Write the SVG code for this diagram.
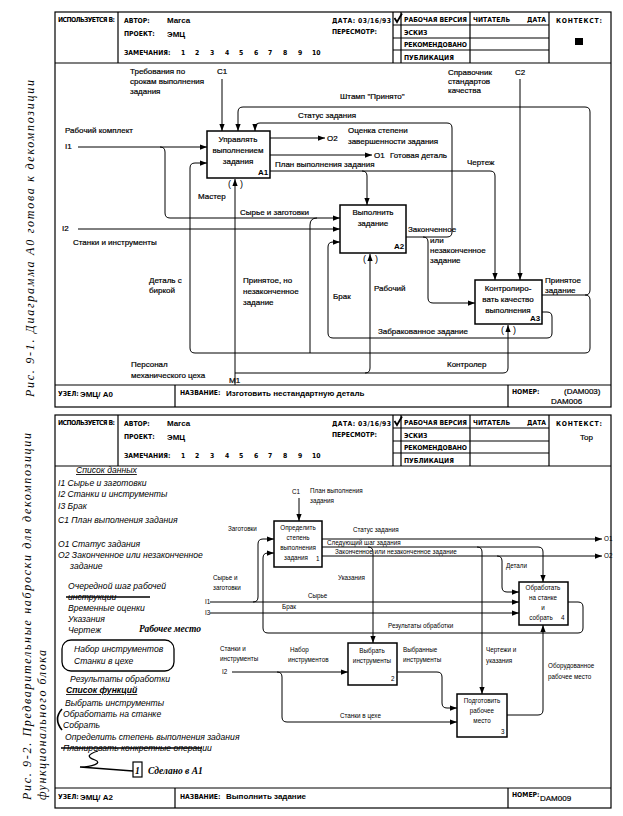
<svg xmlns="http://www.w3.org/2000/svg" width="623" height="816" viewBox="0 0 623 816">
<defs>
<marker id="ah" viewBox="0 0 8 6" refX="8" refY="3" markerWidth="7" markerHeight="5.5" markerUnits="userSpaceOnUse" orient="auto"><path d="M0,0 L8,3 L0,6 z" fill="#000"/></marker>
<g id="hdr">
<path class="fr" d="M118,12V63 M393,12V63 M401,12V63 M470,12V63 M549,12V63 M393,25H549 M393,38H549 M393,50H549 M55,63H611"/>
<text class="h" x="58" y="22" textLength="57">ИСПОЛЬЗУЕТСЯ В:</text>
<text class="h" x="124" y="23">АВТОР:</text>
<text class="hv" x="167" y="23">Marca</text>
<text class="h" x="124" y="36">ПРОЕКТ:</text>
<text class="hv" x="167" y="37" font-size="10">ЭМЦ</text>
<text class="h" x="124" y="55">ЗАМЕЧАНИЯ:</text>
<text class="h" y="55" font-size="7.5"><tspan x="181">1</tspan><tspan x="195">2</tspan><tspan x="210">3</tspan><tspan x="225">4</tspan><tspan x="239">5</tspan><tspan x="254">6</tspan><tspan x="268">7</tspan><tspan x="283">8</tspan><tspan x="298">9</tspan><tspan x="312">10</tspan></text>
<text class="h" x="332" y="23" textLength="59">ДАТА: 03/16/93</text>
<text class="h" x="332" y="34">ПЕРЕСМОТР:</text>
<text class="h" x="404" y="22" textLength="63">РАБОЧАЯ ВЕРСИЯ</text>
<text class="h" x="404" y="35">ЭСКИЗ</text>
<text class="h" x="404" y="47" textLength="63">РЕКОМЕНДОВАНО</text>
<text class="h" x="404" y="60">ПУБЛИКАЦИЯ</text>
<text class="h" x="473" y="22">ЧИТАТЕЛЬ</text>
<text class="h" x="527" y="22">ДАТА</text>
<text class="h" x="556" y="23" textLength="46">КОНТЕКСТ:</text>
<path d="M394.5,18 l2.5,4 l5,-8.5" stroke="#000" stroke-width="1.8" fill="none"/>
</g>
</defs>
<style>
.fr{fill:none;stroke:#000;stroke-width:1.2}
.cn{fill:none;stroke:#000;stroke-width:1;marker-end:url(#ah)}
.cn0{fill:none;stroke:#000;stroke-width:1}
.box{fill:#fff;stroke:#000;stroke-width:1.5}
.h{font-family:"DejaVu Sans Condensed","DejaVu Sans",sans-serif;font-weight:bold;font-size:6.8px}
.hv{font-family:"Liberation Sans",Arial,sans-serif;font-weight:bold;font-size:8px}
.t{font-family:"Liberation Sans",Arial,sans-serif;font-size:8px;stroke:#000;stroke-width:0.2}
.tc{font-family:"Liberation Sans",Arial,sans-serif;font-size:8px;text-anchor:middle;stroke:#000;stroke-width:0.2}
.ts{font-family:"Liberation Sans",Arial,sans-serif;font-size:6.3px}
.tsc{font-family:"Liberation Sans",Arial,sans-serif;font-size:6.3px;text-anchor:middle}
.it{font-family:"Liberation Sans",Arial,sans-serif;font-style:italic;font-size:8.6px}
.sc{font-family:"Liberation Serif",serif;font-style:italic;font-weight:bold;font-size:9.5px}
.cap{font-family:"Liberation Serif",serif;font-style:italic;font-size:12px}
.par{font-family:"Liberation Sans",Arial,sans-serif;font-size:9px}
</style>

<!-- captions -->
<text class="cap" transform="translate(34,397) rotate(-90)" textLength="317">Рис. 9-1. Диаграмма А0 готова к декомпозиции</text>
<text class="cap" transform="translate(31,800) rotate(-90)" textLength="367">Рис. 9-2. Предварительные наброски для декомпозиции</text>
<text class="cap" transform="translate(46,800) rotate(-90)" textLength="150">функционального блока</text>

<!-- ===== upper sheet ===== -->
<g id="sheet1">
<rect class="fr" x="55" y="12" width="556" height="395"/>
<use href="#hdr"/>
<rect x="575" y="38" width="8" height="7" fill="#000"/>
<path class="fr" d="M55,385H611 M175,385V407 M508,385V407"/>
<text class="h" x="58" y="396">УЗЕЛ:</text>
<text class="hv" x="80" y="397" font-size="10">ЭМЦ/ А0</text>
<text class="h" x="180" y="395">НАЗВАНИЕ:</text>
<text class="hv" x="226" y="396">Изготовить нестандартную деталь</text>
<text class="h" x="512" y="394">НОМЕР:</text>
<text class="t" x="564" y="394">(DAM003)</text>
<text class="t" x="551" y="404">DAM006</text>
</g>

<g id="connectors1">
<path class="cn" d="M222,79V131"/>
<path class="cn" d="M520,79V280"/>
<path class="cn" d="M78,147H207"/>
<path class="cn" d="M160,147Q165,147 165,152V213Q165,218 170,218H340"/>
<path class="cn" d="M78,229H340"/>
<path class="cn" d="M270,138H325"/>
<path class="cn" d="M270,155H372"/>
<path class="cn" d="M270,171H490Q495,171 495,176V280"/>
<path class="cn" d="M362,171Q367,171 367,176V205"/>
<path class="cn" d="M406,237H447Q452,237 452,232V128Q452,123 447,123H260Q255,123 255,128V131"/>
<path class="cn" d="M423,237Q428,237 428,242V298Q428,303 433,303H475"/>
<path class="cn" d="M542,295H585Q590,295 590,290V112Q590,107 585,107H243Q238,107 238,112V131"/>
<path class="cn" d="M585,295Q590,295 590,300V348Q590,353 585,353H195Q190,353 190,348V168Q190,163 195,163H207"/>
<path class="cn0" d="M310,353V225Q310,218 317,218"/>
<path class="cn" d="M542,312H547Q552,312 552,317V333Q552,338 547,338H333Q328,338 328,333V247Q328,242 333,242H340"/>
<path class="cn" d="M235,385V179"/>
<path class="cn" d="M235,373H365Q370,373 370,368V254"/>
<path class="cn" d="M365,373H503Q508,373 508,368V325"/>
</g>

<g id="A1">
<rect class="box" x="207" y="131" width="63" height="47"/>
<text class="tc" x="238" y="142">Управлять</text>
<text class="tc" x="238" y="153">выполнением</text>
<text class="tc" x="238" y="164">задания</text>
<text class="hv" x="258" y="175">A1</text>
<text class="par" x="228" y="187">(</text><text class="par" x="240" y="187">)</text>
</g>
<g id="A2">
<rect class="box" x="340" y="205" width="66" height="48"/>
<text class="tc" x="373" y="215">Выполнить</text>
<text class="tc" x="373" y="226">задание</text>
<text class="hv" x="394" y="249">A2</text>
<text class="par" x="363" y="262">(</text><text class="par" x="375" y="262">)</text>
</g>
<g id="A3">
<rect class="box" x="475" y="280" width="67" height="44"/>
<text class="tc" x="508" y="291">Контролиро-</text>
<text class="tc" x="508" y="302">вать качество</text>
<text class="tc" x="508" y="313">выполнения</text>
<text class="hv" x="530" y="321">A3</text>
<text class="par" x="501" y="333">(</text><text class="par" x="513" y="333">)</text>
</g>

<g id="labels1">
<text class="t" x="130" y="74">Требования по</text>
<text class="t" x="130" y="84">срокам выполнения</text>
<text class="t" x="130" y="94">задания</text>
<text class="t" x="217" y="74">C1</text>
<text class="t" x="448" y="75">Справочник</text>
<text class="t" x="448" y="84">стандартов</text>
<text class="t" x="448" y="93">качества</text>
<text class="t" x="515" y="75">C2</text>
<text class="t" x="340" y="99">Штамп "Принято"</text>
<text class="t" x="298" y="118">Статус задания</text>
<text class="t" x="65" y="133">Рабочий комплект</text>
<text class="t" x="65" y="149">I1</text>
<text class="t" x="327" y="141">O2</text>
<text class="t" x="348" y="133">Оценка степени</text>
<text class="t" x="348" y="144">завершенности задания</text>
<text class="t" x="374" y="158">O1</text>
<text class="t" x="390" y="158">Готовая деталь</text>
<text class="t" x="275" y="167">План выполнения задания</text>
<text class="t" x="467" y="165">Чертеж</text>
<text class="t" x="198" y="199">Мастер</text>
<text class="t" x="240" y="215">Сырье и заготовки</text>
<text class="t" x="62" y="231">I2</text>
<text class="t" x="73" y="245">Станки и инструменты</text>
<text class="t" x="408" y="232">Законченное</text>
<text class="t" x="430" y="243">или</text>
<text class="t" x="430" y="253">незаконченное</text>
<text class="t" x="430" y="263">задание</text>
<text class="t" x="149" y="283">Деталь с</text>
<text class="t" x="149" y="293">биркой</text>
<text class="t" x="243" y="283">Принятое, но</text>
<text class="t" x="243" y="294">незаконченное</text>
<text class="t" x="243" y="305">задание</text>
<text class="t" x="333" y="299">Брак</text>
<text class="t" x="374" y="291">Рабочий</text>
<text class="t" x="545" y="283">Принятое</text>
<text class="t" x="545" y="293">задание</text>
<text class="t" x="378" y="334">Забракованное задание</text>
<text class="t" x="447" y="367">Контролер</text>
<text class="t" x="131" y="367">Персонал</text>
<text class="t" x="131" y="378">механического цеха</text>
<text class="t" x="229" y="383">M1</text>
</g>

<!-- ===== lower sheet ===== -->
<g id="sheet2">
<rect class="fr" x="55" y="415" width="556" height="393"/>
<use href="#hdr" y="403"/>
<text class="t" x="580" y="440">Top</text>
<path class="fr" d="M55,788H611 M175,788V808 M508,788V808"/>
<text class="h" x="58" y="799">УЗЕЛ:</text>
<text class="hv" x="80" y="800" font-size="10">ЭМЦ/ А2</text>
<text class="h" x="180" y="799">НАЗВАНИЕ:</text>
<text class="hv" x="226" y="799">Выполнить задание</text>
<text class="h" x="512" y="797">НОМЕР:</text>
<text class="t" x="540" y="801">DAM009</text>
</g>

<g id="notes">
<text class="it" x="76" y="473" text-decoration="underline">Список данных</text>
<text class="it" x="58" y="486">I1 Сырье и заготовки</text>
<text class="it" x="58" y="497">I2 Станки и инструменты</text>
<text class="it" x="58" y="509">I3 Брак</text>
<text class="it" x="58" y="523">C1 План выполнения задания</text>
<text class="it" x="58" y="547">O1 Статус задания</text>
<text class="it" x="58" y="558">O2 Законченное или незаконченное</text>
<text class="it" x="70" y="569">задание</text>
<text class="it" x="68" y="589">Очередной шаг рабочей</text>
<text class="it" x="68" y="600">инструкции</text>
<path d="M66,597H150" stroke="#000" stroke-width="1.4"/>
<text class="it" x="68" y="611">Временные оценки</text>
<text class="it" x="68" y="622">Указания</text>
<text class="it" x="68" y="633">Чертеж</text>
<text class="sc" x="139" y="632">Рабочее место</text>
<rect x="62" y="640" width="112" height="31" rx="9" fill="none" stroke="#000" stroke-width="1.3"/>
<text class="it" x="74" y="652">Набор инструментов</text>
<text class="it" x="74" y="664">Станки в цехе</text>
<text class="it" x="70" y="682">Результаты обработки</text>
<text class="it" x="66" y="693" font-weight="bold" text-decoration="underline">Список функций</text>
<text class="it" x="65" y="706">Выбрать инструменты</text>
<text class="it" x="63" y="717">Обработать на станке</text>
<text class="it" x="63" y="728">Собрать</text>
<path d="M62,709Q53,719 62,730" fill="none" stroke="#000" stroke-width="1.6"/>
<text class="it" x="65" y="740">Определить степень выполнения задания</text>
<text class="it" x="63" y="751">Планировать конкретные операции</text>
<path d="M61,748H202" stroke="#000" stroke-width="1.6"/>
<path d="M98,751C88,754 86,757 95,760C103,763 92,767 80,767L133,771" fill="none" stroke="#000" stroke-width="1.3"/>
<rect x="133" y="762" width="9" height="15" fill="none" stroke="#000" stroke-width="1.2"/>
<text class="sc" x="135" y="774">1</text>
<text class="sc" x="148" y="774">Сделано в А1</text>
</g>

<g id="connectors2">
<path class="cn" d="M299,498V521"/>
<path class="cn" d="M253,602Q258,602 258,597V544Q258,539 263,539H274"/>
<path class="cn" d="M568,602H578Q583,602 583,607V628Q583,633 578,633H268Q263,633 263,628V558Q263,553 268,553H274"/>
<path class="cn" d="M322,539H602"/>
<path class="cn" d="M322,547H538Q543,547 543,552V582"/>
<path class="cn" d="M322,556H602"/>
<path class="cn" d="M368,547Q373,547 373,552V643"/>
<path class="cn" d="M477,547Q482,547 482,552V694"/>
<path class="cn" d="M497,556Q502,556 502,561V587Q502,592 507,592H519"/>
<path class="cn" d="M210,602H519"/>
<path class="cn" d="M210,613H519"/>
<path class="cn" d="M232,672H348"/>
<path class="cn" d="M277,672Q282,672 282,677V717Q282,722 287,722H457"/>
<path class="cn" d="M397,672H437Q442,672 442,677V703Q442,708 447,708H457"/>
<path class="cn" d="M507,715H538Q543,715 543,710V625"/>
</g>

<g id="B1">
<rect class="box" x="274" y="521" width="48" height="46" stroke-width="1.1"/>
<text class="tsc" x="298" y="530">Определить</text>
<text class="tsc" x="298" y="540">степень</text>
<text class="tsc" x="298" y="550">выполнения</text>
<text class="tsc" x="296" y="560">задания</text>
<text class="ts" x="316" y="561">1</text>
</g>
<g id="B2">
<rect class="box" x="348" y="643" width="49" height="42" stroke-width="1.1"/>
<text class="tsc" x="372" y="653">Выбрать</text>
<text class="tsc" x="372" y="663">инструменты</text>
<text class="ts" x="391" y="681">2</text>
</g>
<g id="B3">
<rect class="box" x="457" y="694" width="50" height="43" stroke-width="1.1"/>
<text class="tsc" x="482" y="703">Подготовить</text>
<text class="tsc" x="482" y="713">рабочее</text>
<text class="tsc" x="482" y="723">место</text>
<text class="ts" x="501" y="734">3</text>
</g>
<g id="B4">
<rect class="box" x="519" y="582" width="49" height="43" stroke-width="1.1"/>
<text class="tsc" x="543" y="590">Обработать</text>
<text class="tsc" x="543" y="600">на станке</text>
<text class="tsc" x="543" y="610">и</text>
<text class="tsc" x="541" y="620">собрать</text>
<text class="ts" x="561" y="620">4</text>
</g>

<g id="labels2">
<text class="ts" x="292" y="494" font-size="7">C1</text>
<text class="ts" x="310" y="493">План выполнения</text>
<text class="ts" x="310" y="503">задания</text>
<text class="ts" x="228" y="531">Заготовки</text>
<text class="ts" x="353" y="532">Статус задания</text>
<text class="ts" x="327" y="544.5">Следующий шаг задания</text>
<text class="ts" x="335" y="553.5">Законченное или незаконченное задание</text>
<text class="ts" x="604" y="541" font-size="7">O1</text>
<text class="ts" x="604" y="558" font-size="7">O2</text>
<text class="ts" x="506" y="568">Детали</text>
<text class="ts" x="338" y="580">Указания</text>
<text class="ts" x="213" y="580">Сырье и</text>
<text class="ts" x="213" y="590">заготовки</text>
<text class="ts" x="205" y="604">I1</text>
<text class="ts" x="205" y="615">I3</text>
<text class="ts" x="308" y="598">Сырье</text>
<text class="ts" x="282" y="609">Брак</text>
<text class="ts" x="388" y="628">Результаты обработки</text>
<text class="ts" x="220" y="651">Станки и</text>
<text class="ts" x="220" y="661">инструменты</text>
<text class="ts" x="222" y="674">I2</text>
<text class="ts" x="290" y="652">Набор</text>
<text class="ts" x="288" y="662">инструментов</text>
<text class="ts" x="403" y="652">Выбранные</text>
<text class="ts" x="403" y="662">инструменты</text>
<text class="ts" x="486" y="652">Чертежи и</text>
<text class="ts" x="486" y="663">указания</text>
<text class="ts" x="548" y="668">Оборудованное</text>
<text class="ts" x="548" y="679">рабочее место</text>
<text class="ts" x="340" y="718">Станки в цехе</text>
</g>
</svg>
